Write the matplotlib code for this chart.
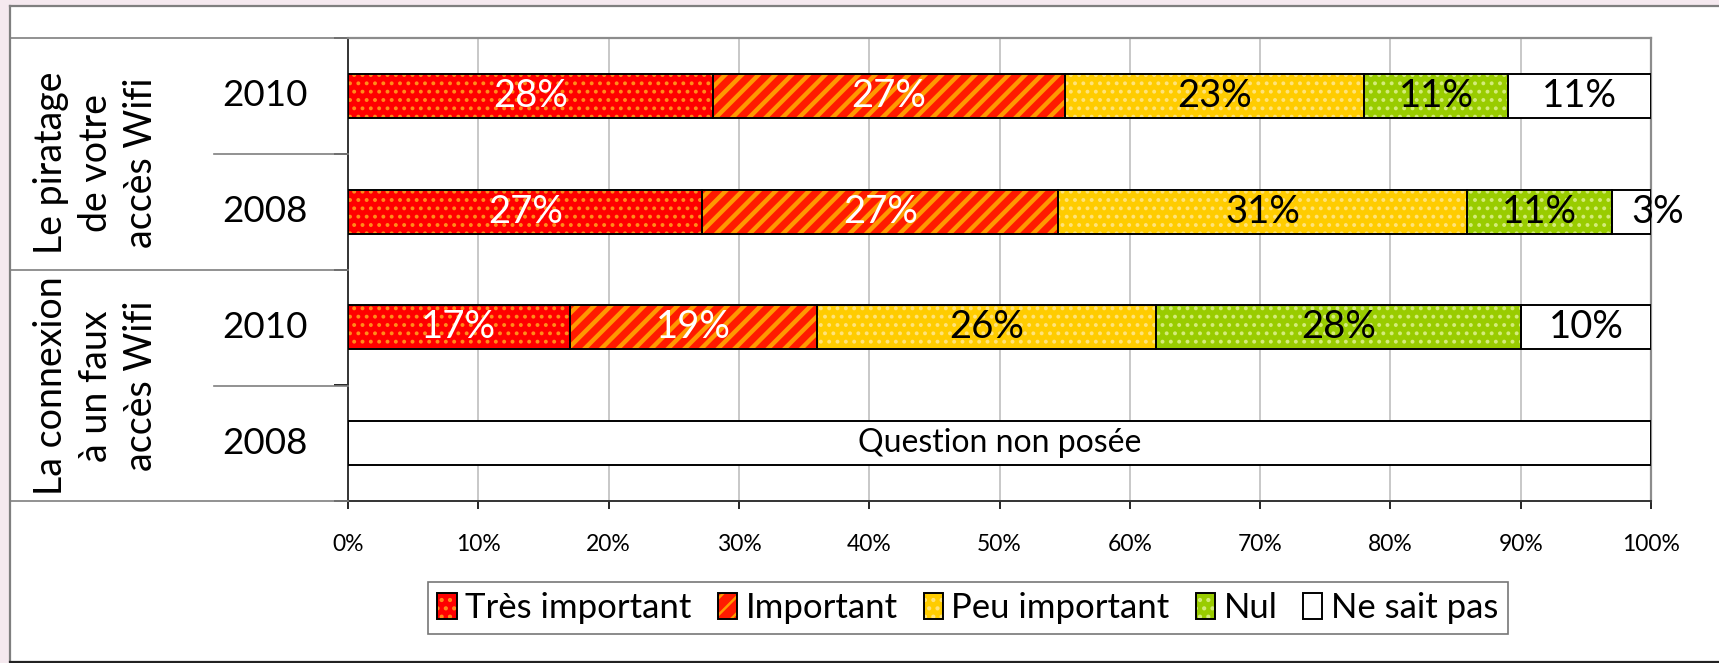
import matplotlib
matplotlib.use("Agg")
import matplotlib.pyplot as plt
from matplotlib.patches import Patch, Rectangle
from matplotlib.lines import Line2D

plt.rcParams['font.family'] = ['Lato', 'DejaVu Sans']
plt.rcParams['hatch.linewidth'] = 1.8

# ---- data ----
groups = ["Le piratage\nde votre\naccès Wifi", "La connexion\nà un faux\naccès Wifi"]
years = ["2010", "2008", "2010", "2008"]
categories = ["Très important", "Important", "Peu important", "Nul", "Ne sait pas"]
piratage_2010 = [28, 27, 23, 11, 11]
piratage_2008 = [27.2, 27.3, 31.4, 11.1, 3.0]
connexion_2010 = [17, 19, 26, 28, 10]
connexion_2008 = None  # question non posée
rows = [piratage_2010, piratage_2008, connexion_2010, connexion_2008]
not_asked_label = "Question non posée"
xticks = [0, 10, 20, 30, 40, 50, 60, 70, 80, 90, 100]

# styles
face = ["#FF0000", "#FF1A00", "#FFCC00", "#99CC00", "#FFFFFF"]
hatchc = ["#FF8C1A", "#FF9900", "#FFE37A", "#D4EC7A", "#FFFFFF"]
hatches = ["..", "//", "..", "..", None]
hatch_lw = [1.6, 3.2, 1.6, 1.6, 1.0]
txtc = ["white", "white", "black", "black", "black"]

W, H = 1719, 663
fig = plt.figure(figsize=(W / 100, H / 100), dpi=100, facecolor="#F5E9EF")

def fx(px):
    return px / W

def fy(py):
    return 1 - py / H

def set_hlw(patch, lw):
    if hasattr(patch, "set_hatch_linewidth"):
        patch.set_hatch_linewidth(lw)

# white chart area with frame
fig.patches.append(Rectangle((fx(10), fy(661)), 1, fy(6) - fy(661), transform=fig.transFigure,
                             facecolor="white", edgecolor="none", zorder=-10))
fig.lines.append(Line2D([fx(9.5), fx(9.5)], [fy(6), fy(661)], transform=fig.transFigure, color="#7F7F7F", lw=1.6))
fig.lines.append(Line2D([fx(9.5), 1], [fy(5.5), fy(5.5)], transform=fig.transFigure, color="#7F7F7F", lw=1.6))
fig.lines.append(Line2D([fx(9.5), 1], [fy(661.5), fy(661.5)], transform=fig.transFigure, color="#222222", lw=1.6))

L, R, T, B = 348, 1651, 38, 501
ax = fig.add_axes([fx(L), fy(B), fx(R) - fx(L), fy(T) - fy(B)])
ax.set_zorder(1)
ax.set_xlim(0, 100)
ax.set_ylim(4, 0)

bh = 0.38
for i, vals in enumerate(rows):
    yc = i + 0.5
    if vals is None:
        ax.barh(yc, 100, left=0, height=bh, color="white", edgecolor="black", lw=1.4, zorder=3)
        ax.text(50, yc, not_asked_label, ha="center", va="center", fontsize=23, color="black", zorder=5)
        continue
    left = 0
    for k, v in enumerate(vals):
        with plt.rc_context({"hatch.linewidth": hatch_lw[k]}):
            bars = ax.barh(yc, v, left=left, height=bh, color=face[k], edgecolor=hatchc[k],
                           hatch=hatches[k], lw=0, zorder=3)
        for p in bars.patches:
            set_hlw(p, hatch_lw[k])
        ax.barh(yc, v, left=left, height=bh, fill=False, edgecolor="black", lw=1.4, zorder=4)
        ha = "center" if v >= 5 else "left"
        ax.text(left + v / 2, yc, f"{round(v)}%", ha=ha, va="center", fontsize=27.5,
                color=txtc[k], zorder=6, clip_on=False)
        left += v

# axes styling
ax.set_xticks(xticks)
ax.set_xticklabels([f"{t}%" for t in xticks], fontsize=16.5)
ax.tick_params(axis="x", direction="out", length=6, width=1.2, pad=18, color="black")
ax.set_yticks([0, 1, 2, 3, 4])
ax.set_yticklabels([])
ax.tick_params(axis="y", direction="out", length=10, width=1.2, color="black")
ax.grid(axis="x", color="#BFBFBF", lw=1.2, zorder=0)
ax.set_axisbelow(True)
for s in ["top", "right"]:
    ax.spines[s].set_color("#8C8C8C")
    ax.spines[s].set_linewidth(1.6)
for s in ["left", "bottom"]:
    ax.spines[s].set_color("#333333")
    ax.spines[s].set_linewidth(1.4)

# category table on the left
tc = "#7F7F7F"
for py in [T, 270, B]:
    fig.lines.append(Line2D([fx(10), fx(L)], [fy(py), fy(py)], transform=fig.transFigure, color=tc, lw=1.2))
for py in [154, 386]:
    fig.lines.append(Line2D([fx(214), fx(L)], [fy(py), fy(py)], transform=fig.transFigure, color=tc, lw=1.2))

row_centers = [96, 212, 328, 444]
for yr, py in zip(years, row_centers):
    fig.text(fx(265), fy(py), yr, ha="center", va="center", fontsize=26.5)
for g, py in zip(groups, [163, 386]):
    fig.text(fx(96), fy(py), g, ha="center", va="center", rotation=90, fontsize=27,
             multialignment="center", linespacing=1.3)

# legend
handles = []
for k in range(5):
    with plt.rc_context({"hatch.linewidth": hatch_lw[k]}):
        h1 = Patch(facecolor=face[k], edgecolor=hatchc[k], hatch=hatches[k], lw=0)
    set_hlw(h1, hatch_lw[k])
    h2 = Patch(fill=False, edgecolor="black", lw=1.4)
    handles.append((h1, h2))
leg = fig.legend(handles, categories, loc="center", bbox_to_anchor=(fx(968), fy(608)), ncol=5,
                 fontsize=25, frameon=True, fancybox=False, edgecolor="#555555",
                 handlelength=0.55, handleheight=0.75, handletextpad=0.25, columnspacing=0.75,
                 borderpad=0.28)
leg.get_frame().set_linewidth(1.2)

fig.savefig("out.png", dpi=100, facecolor=fig.get_facecolor())
